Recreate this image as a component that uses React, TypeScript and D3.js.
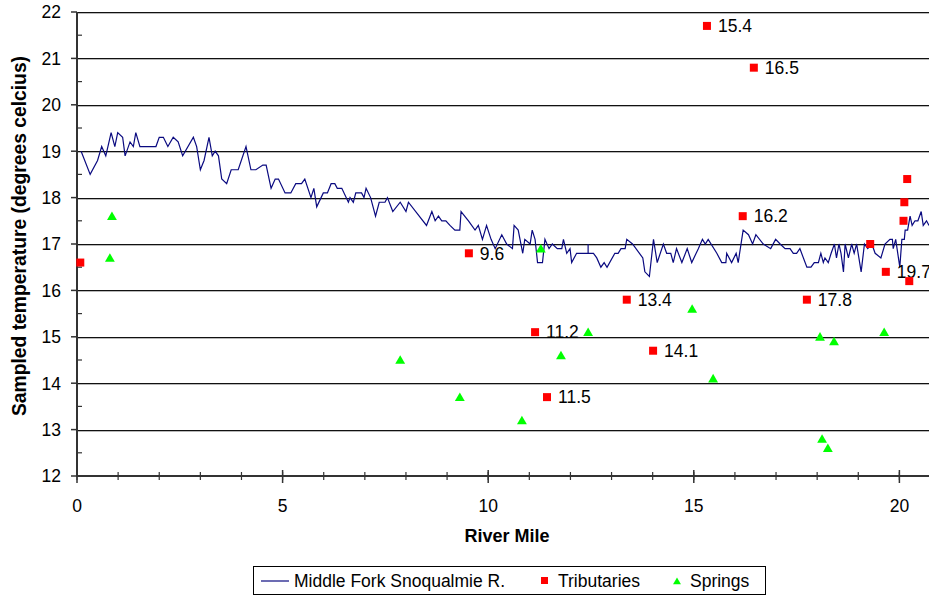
import React from "react";
import * as d3 from "d3";

// River (Middle Fork Snoqualmie R.) samples: river mile and temperature
const riverMile = [
  0.10, 0.32, 0.50, 0.60, 0.70, 0.83, 0.92, 0.99, 1.11, 1.17, 1.29, 1.37, 1.43, 1.53, 1.92, 2.00, 2.10, 2.21, 2.34, 2.46,
  2.57, 2.83, 2.91, 3.00, 3.09, 3.21, 3.29, 3.36, 3.44, 3.52, 3.64, 3.75, 3.92, 4.11, 4.23, 4.35, 4.52, 4.60, 4.72, 4.82,
  4.90, 5.06, 5.20, 5.32, 5.46, 5.54, 5.69, 5.76, 5.83, 5.99, 6.09, 6.18, 6.27, 6.33, 6.44, 6.60, 6.64, 6.72, 6.78, 6.92,
  6.98, 7.03, 7.14, 7.26, 7.35, 7.49, 7.55, 7.68, 7.86, 8.00, 8.06, 8.50, 8.63, 8.71, 8.79, 8.87, 8.97, 9.07, 9.19, 9.31,
  9.34, 9.52, 9.68, 9.76, 9.86, 9.96, 10.07, 10.17, 10.33, 10.45, 10.59, 10.63, 10.73, 10.84, 10.89, 11.02, 11.07, 11.14, 11.20, 11.32,
  11.38, 11.48, 11.56, 11.68, 11.79, 11.83, 11.91, 11.99, 12.03, 12.15, 12.43, 12.43, 12.43, 12.56, 12.64, 12.74, 12.82, 12.89, 13.08, 13.16,
  13.23, 13.33, 13.37, 13.51, 13.76, 13.81, 13.92, 14.02, 14.11, 14.26, 14.34, 14.44, 14.50, 14.58, 14.71, 14.84, 14.95, 15.11, 15.21, 15.28,
  15.35, 15.56, 15.68, 15.78, 15.80, 15.92, 16.03, 16.08, 16.20, 16.33, 16.43, 16.51, 16.69, 16.87, 16.99, 17.10, 17.22, 17.34, 17.42, 17.50,
  17.58, 17.75, 17.85, 17.93, 18.03, 18.09, 18.15, 18.19, 18.27, 18.34, 18.42, 18.47, 18.53, 18.58, 18.64, 18.68, 18.76, 18.84, 18.90, 18.96,
  19.07, 19.15, 19.23, 19.33, 19.41, 19.55, 19.65, 19.77, 19.83, 19.85, 19.91, 20.01, 20.06, 20.12, 20.14, 20.20, 20.26, 20.31, 20.38, 20.45,
  20.53, 20.58, 20.66, 20.72,
];
const riverTemp = [
  19.0, 18.5, 18.8, 19.1, 18.9, 19.4, 19.1, 19.4, 19.3, 18.9, 19.2, 19.1, 19.4, 19.1, 19.1, 19.3, 19.3, 19.1, 19.3, 19.2,
  18.9, 19.3, 19.1, 18.6, 18.8, 19.3, 18.9, 19.0, 18.9, 18.4, 18.3, 18.6, 18.6, 19.1, 18.6, 18.6, 18.7, 18.7, 18.2, 18.4,
  18.4, 18.1, 18.1, 18.3, 18.3, 18.4, 18.0, 18.2, 17.8, 18.1, 18.1, 18.3, 18.3, 18.2, 18.2, 17.9, 18.0, 17.9, 18.1, 18.1,
  18.0, 18.2, 18.0, 17.6, 17.9, 17.9, 18.0, 17.7, 17.9, 17.7, 17.9, 17.4, 17.7, 17.5, 17.6, 17.5, 17.5, 17.4, 17.3, 17.3,
  17.7, 17.5, 17.3, 17.4, 17.1, 17.4, 17.1, 16.9, 17.2, 17.0, 16.9, 17.4, 17.3, 16.8, 17.1, 17.0, 17.3, 17.1, 16.6, 16.6,
  17.1, 16.9, 17.0, 16.9, 16.9, 17.1, 16.8, 16.9, 16.6, 16.8, 16.8, 17.0, 16.8, 16.8, 16.7, 16.5, 16.6, 16.5, 16.8, 16.8,
  16.9, 16.9, 17.1, 17.0, 16.7, 16.4, 16.3, 17.1, 16.6, 17.0, 16.8, 16.8, 16.6, 16.9, 16.6, 16.9, 16.6, 16.9, 17.1, 17.0,
  17.1, 16.8, 16.6, 16.6, 16.8, 16.6, 16.8, 16.6, 17.3, 17.2, 17.0, 17.2, 17.0, 16.9, 17.1, 17.0, 16.9, 16.9, 16.8, 16.8,
  16.9, 16.5, 16.5, 16.6, 16.6, 16.8, 16.6, 16.7, 16.6, 16.8, 17.0, 16.7, 17.0, 16.8, 16.4, 17.0, 16.7, 17.0, 16.8, 17.0,
  16.4, 17.0, 16.9, 17.0, 16.8, 16.7, 17.0, 17.1, 17.1, 16.9, 17.1, 16.5, 17.1, 17.1, 17.3, 17.3, 17.6, 17.4, 17.5, 17.5,
  17.7, 17.4, 17.5, 17.4,
];

// Tributaries
const tribMile = [0.08, 9.53, 11.14, 11.43, 13.37, 14.01, 15.32, 16.46, 16.19, 17.75, 19.29, 19.67, 20.24, 20.10, 20.12, 20.19];
const tribTemp = [16.6, 16.8, 15.1, 13.7, 15.8, 14.7, 21.7, 20.8, 17.6, 15.8, 17.0, 16.4, 16.2, 17.5, 17.9, 18.4];
const tribLabel = ["", "9.6", "11.2", "11.5", "13.4", "14.1", "15.4", "16.5", "16.2", "17.8", "", "19.7", "", "", "", ""];

// Springs
const springMile = [0.85, 0.80, 7.86, 9.31, 10.82, 11.28, 11.77, 12.43, 14.96, 15.47, 18.07, 18.41, 18.12, 18.26, 19.63];
const springTemp = [17.6, 16.7, 14.5, 13.7, 13.2, 16.9, 14.6, 15.1, 15.6, 14.1, 15.0, 14.9, 12.8, 12.6, 15.1];

const xTickLabels = [0, 5, 10, 15, 20];
const yTickLabels = [12, 13, 14, 15, 16, 17, 18, 19, 20, 21, 22];
const legendLabels = ["Middle Fork Snoqualmie R.", "Tributaries", "Springs"];

const W = 929;
const H = 598;
const FONT = "'Liberation Sans', Arial, sans-serif";

export default function App() {
  const x = d3.scaleLinear().domain([0, 20.72]).range([77, 929]);
  const y = d3.scaleLinear().domain([12, 22]).range([476, 12]);

  const river = riverMile.map((m, i) => [m, riverTemp[i]] as [number, number]);
  const line = d3
    .line<[number, number]>()
    .x((d) => x(d[0]))
    .y((d) => y(d[1]));

  const minorX = d3.range(0, 21, 1);
  const minorY = d3.range(12.5, 22, 1);
  const tri = d3.symbol().type(d3.symbolTriangle).size(42)();

  return (
    <svg
      width={W}
      height={H}
      style={{ position: "absolute", left: 0, top: 0, background: "#fff" }}
      fontFamily={FONT}
    >
      {/* gridlines */}
      {yTickLabels.slice(1).map((t) => (
        <g key={"g" + t}>
          <line x1={77} x2={W} y1={Math.round(y(t)) + 0.5} y2={Math.round(y(t)) + 0.5} stroke="#111" strokeWidth={1} />
          <line x1={77} x2={W} y1={Math.round(y(t)) + 1.5} y2={Math.round(y(t)) + 1.5} stroke="#b8b8b8" strokeWidth={1} />
        </g>
      ))}

      {/* y axis */}
      <line x1={77} x2={77} y1={y(22)} y2={y(12) + 1} stroke="#333" strokeWidth={2} />
      {yTickLabels.map((t) => (
        <g key={"yt" + t}>
          <line x1={71} x2={77} y1={y(t)} y2={y(t)} stroke="#333" strokeWidth={1.5} />
          <text x={61} y={y(t)} dy="0.36em" textAnchor="end" fontSize={17.5} fill="#000">
            {t}
          </text>
        </g>
      ))}
      {minorY.map((t) => (
        <line key={"ym" + t} x1={77} x2={82} y1={y(t)} y2={y(t)} stroke="#333" strokeWidth={1.2} />
      ))}

      {/* x axis */}
      <line x1={77} x2={W} y1={y(12)} y2={y(12)} stroke="#333" strokeWidth={2} />
      {minorX.map((t) => (
        <line key={"xm" + t} x1={x(t)} x2={x(t)} y1={y(12) - 4} y2={y(12) + 4} stroke="#333" strokeWidth={1.2} />
      ))}
      {xTickLabels.map((t) => (
        <g key={"xt" + t}>
          <line x1={x(t)} x2={x(t)} y1={y(12) - 6} y2={y(12) + 7} stroke="#333" strokeWidth={1.5} />
          <text x={x(t)} y={506} dy="0.36em" textAnchor="middle" fontSize={17.5} fill="#000">
            {t}
          </text>
        </g>
      ))}

      {/* axis titles */}
      <text x={507} y={536} dy="0.36em" textAnchor="middle" fontSize={18} fontWeight="bold">
        River Mile
      </text>
      <text
        transform="translate(19,236) rotate(-90)"
        dy="0.36em"
        textAnchor="middle"
        fontSize={19.3}
        fontWeight="bold"
      >
        Sampled temperature (degrees celcius)
      </text>

      {/* river line */}
      <path d={line(river) || ""} fill="none" stroke="#0a0a80" strokeWidth={1.2} />

      {/* springs */}
      {springMile.map((m, i) => (
        <path key={"s" + i} d={tri || ""} transform={`translate(${x(m)},${y(springTemp[i]) + 1})`} fill="#00ff00" />
      ))}

      {/* tributaries */}
      {tribMile.map((m, i) => (
        <g key={"t" + i}>
          <rect x={x(m) - 4} y={y(tribTemp[i]) - 4} width={8} height={8} fill="#ff0000" />
          {tribLabel[i] && (
            <text x={x(m) + 11} y={y(tribTemp[i])} dy="0.36em" fontSize={17.5} fill="#000">
              {tribLabel[i]}
            </text>
          )}
        </g>
      ))}

      {/* legend */}
      <rect x={253.5} y={566.5} width={512} height={28} fill="#fff" stroke="#000" strokeWidth={1} />
      <line x1={261} x2={289} y1={581} y2={581} stroke="#0a0a80" strokeWidth={1.2} />
      <text x={294} y={581} dy="0.36em" fontSize={17.5}>
        {legendLabels[0]}
      </text>
      <rect x={541} y={577} width={7} height={7} fill="#ff0000" />
      <text x={558} y={581} dy="0.36em" fontSize={17.5}>
        {legendLabels[1]}
      </text>
      <path d={tri || ""} transform="translate(677,582) scale(0.8)" fill="#00ff00" />
      <text x={690} y={581} dy="0.36em" fontSize={17.5}>
        {legendLabels[2]}
      </text>
    </svg>
  );
}
